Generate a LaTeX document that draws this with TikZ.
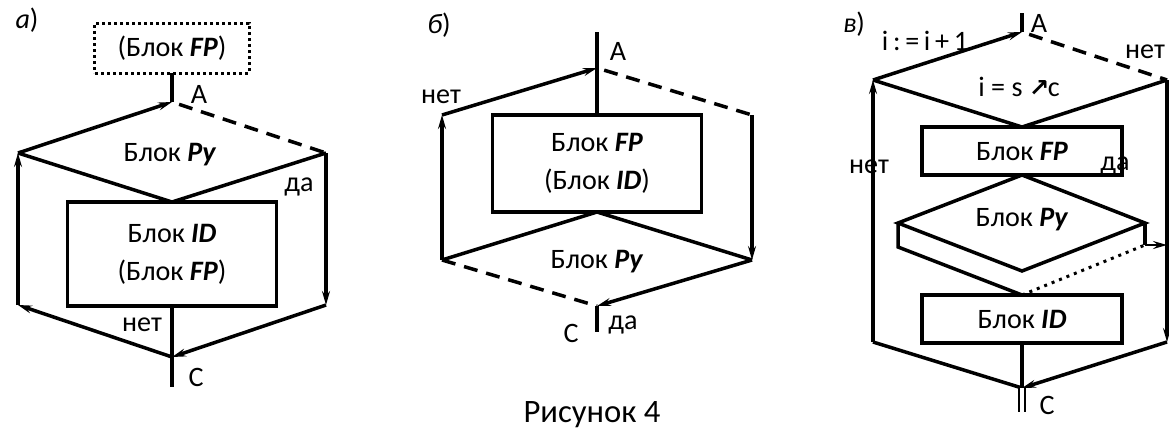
\documentclass[tikz,border=0pt]{standalone}
\usepackage{fontspec}
\setmainfont{Carlito}
\newfontfamily\symfont{DejaVu Sans}
\usetikzlibrary{arrows.meta}

\newcommand{\bfit}[1]{\textbf{\textit{#1}}}

\begin{document}
\begin{tikzpicture}[x=0.2mm, y=-0.2mm,
        line/.style={line width=0.7mm},
        flow/.style={line, -{Stealth[length=2.8mm, width=1.6mm, inset=1mm]}},
        alt/.style={line, dash pattern=on 2.8mm off 1.8mm},
        blockbox/.style={draw, line width=0.7mm, outer sep=0pt, inner sep=0pt, align=center, font=\fontsize{16}{21.5}\selectfont},
        lbl/.style={inner sep=0pt, font=\fontsize{16}{19}\selectfont}
    ]
    \useasboundingbox (0,0) rectangle (1169,432);

    % a) -- loop with condition at the top
    \node[lbl] (a-name) at (27,20) {\textit{а})};
    \node[blockbox, dash pattern=on 0.6mm off 0.6mm, line width=0.6mm, minimum width=30.8mm, minimum height=10mm] (a-fp) at (172,48) {(Блок \bfit{FP})};
    \coordinate (a-top) at (172,102);
    \coordinate (a-left) at (18,153);
    \coordinate (a-right) at (326,153);
    \node[blockbox, minimum width=41.8mm, minimum height=20.8mm] (a-id) at (172,254) {Блок \bfit{ID}\\(Блок \bfit{FP})};
    \coordinate (a-rb) at (326,305);
    \coordinate (a-lb) at (18,305);
    \coordinate (a-join) at (172,357);
    \coordinate (a-out) at (172,387);

    \draw[line] (a-fp.south) -- (a-top);
    \draw[flow] (a-left) -- (a-top);
    \draw[alt, shorten <=1.5mm] (a-top) -- (a-right);
    \draw[line] (a-left) -- (a-id.north) -- (a-right);
    \draw[flow] (a-right) -- (a-rb);
    \draw[flow] (a-rb) -- (a-join);
    \draw[line] (a-id.south) -- (a-out);
    \draw[flow] (a-join) -- (a-lb);
    \draw[flow] (a-lb) -- (a-left);

    \node[lbl] (a-A) at (199,94) {А};
    \node[lbl] (a-py) at (170,155) {Блок \bfit{Ру}};
    \node[lbl] (a-yes) at (299,187) {да};
    \node[lbl] (a-no) at (142,325) {нет};
    \node[lbl] (a-C) at (196,377) {С};

    % b) -- loop with condition at the bottom
    \node[lbl] (b-name) at (439,25) {\textit{б})};
    \coordinate (b-in) at (597,32);
    \coordinate (b-top) at (597,68);
    \coordinate (b-lt) at (442,115);
    \coordinate (b-rt) at (752,115);
    \node[blockbox, minimum width=41.8mm, minimum height=19.4mm] (b-fp) at (597,163.5) {Блок \bfit{FP}\\(Блок \bfit{ID})};
    \coordinate (b-dl) at (442,260);
    \coordinate (b-dr) at (752,260);
    \coordinate (b-dbot) at (597,306);
    \coordinate (b-out) at (597,332);

    \draw[line] (b-in) -- (b-fp.north);
    \draw[flow] (b-lt) -- (b-top);
    \draw[alt, shorten <=1.5mm] (b-top) -- (b-rt);
    \draw[line] (b-dl) -- (b-fp.south) -- (b-dr);
    \draw[alt] (b-dl) -- (b-dbot);
    \draw[flow] (b-dr) -- (b-dbot);
    \draw[flow] (b-dl) -- (b-lt);
    \draw[flow] (b-rt) -- (b-dr);
    \draw[line] (b-dbot) -- (b-out);

    \node[lbl] (b-A) at (618,51) {А};
    \node[lbl] (b-no) at (441,97) {нет};
    \node[lbl] (b-py) at (597,262) {Блок \bfit{Ру}};
    \node[lbl] (b-C) at (571,333) {С};
    \node[lbl] (b-yes) at (623,325) {да};

    \node[inner sep=0pt, font=\fontsize{18.6}{22}\selectfont] (caption) at (592,415) {Рисунок 4};

    % c) -- counting loop
    \node[lbl] (c-name) at (854,24) {\textit{в})};
    \coordinate (c-in) at (1022,13);
    \coordinate (c-top) at (1022,32);
    \coordinate (c-l) at (873,80);
    \coordinate (c-r) at (1167,80);
    \node[blockbox, minimum width=40mm, minimum height=9.6mm] (c-fp) at (1022,151) {Блок \bfit{FP}};
    \coordinate (c-dl) at (898,223);
    \coordinate (c-dr) at (1145,223);
    \coordinate (c-dbot) at (1022,271);
    \coordinate (c-dl2) at (898,247);
    \coordinate (c-dr2) at (1145,245);
    \coordinate (c-rm) at (1167,245);
    \node[blockbox, minimum width=40mm, minimum height=9.6mm] (c-id) at (1022,319) {Блок \bfit{ID}};
    \coordinate (c-lb) at (873,342);
    \coordinate (c-rb) at (1167,342);
    \coordinate (c-join) at (1022,388);
    \coordinate (c-out) at (1022,412);

    \draw[line] (c-in) -- (c-top);
    \draw[flow] (c-l) -- (c-top);
    \draw[alt, shorten <=1.5mm] (c-top) -- (c-r);
    \draw[line] (c-l) -- (c-fp.north) -- (c-r);
    \draw[line] (c-dl) -- (c-fp.south) -- (c-dr) -- (c-dbot) -- cycle;
    \draw[line] (c-dl) -- (c-dl2) -- (c-id.north);
    \draw[line width=0.6mm, dash pattern=on 0.6mm off 1mm] (c-id.north) -- (c-dr2);
    \draw[line] (c-dr) -- (c-dr2);
    \draw[flow, line width=0.5mm] (c-dr2) -- (c-rm);
    \draw[flow] (c-r) -- (c-rb);
    \draw[flow] (c-rb) -- (c-join);
    \draw[line] (c-lb) -- (c-join);
    \draw[flow] (c-lb) -- (c-l);
    \draw[line] (c-id.south) -- (c-join);
    \draw[line width=0.45mm, double, double distance=0.8mm] (c-join) -- (c-out);

    \node[lbl] (c-A) at (1039,23) {А};
    \node[lbl] (c-step) at (925,41) {i\,:\,=\,i\,+\,1};
    \node[lbl] (c-no) at (1145,52) {нет};
    \node[lbl] (c-cond) at (1019,87) {i = s {\symfont\bfseries\fontsize{14}{14}\selectfont ↗}\kern-1pt c};
    \node[lbl] (c-no2) at (869,167) {нет};
    \node[lbl] (c-yes) at (1115,166) {да};
    \node[lbl] (c-py) at (1022,220) {Блок \bfit{Ру}};
    \node[lbl] (c-C) at (1047,405) {С};
\end{tikzpicture}
\end{document}
